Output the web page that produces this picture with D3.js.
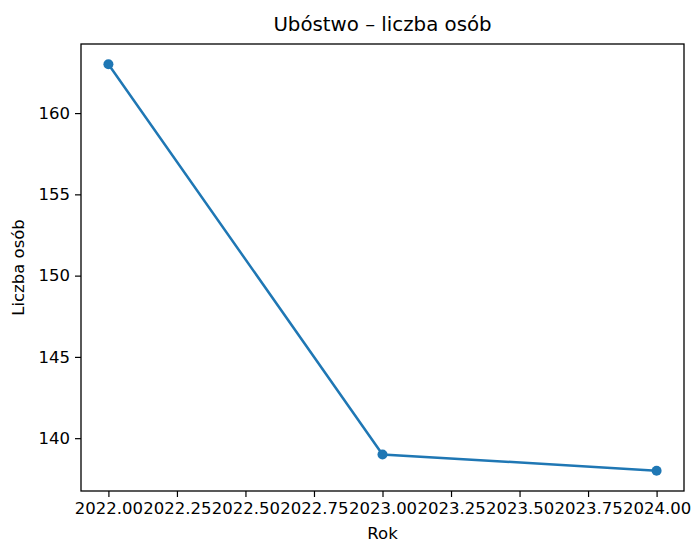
<!DOCTYPE html>
<html>
<head>
<meta charset="utf-8">
<script src="https://cdn.jsdelivr.net/npm/d3@7"></script>
<style>
  body { margin: 0; background: #fff; }
  svg text { font-family: "DejaVu Sans", sans-serif; fill: #000; }
</style>
</head>
<body>
<figure id="chart" style="margin:0"></figure>
<script>
const years = [2022, 2023, 2024];
const persons = [163, 139, 138];
const xTicks = [2022.0, 2022.25, 2022.5, 2022.75, 2023.0, 2023.25, 2023.5, 2023.75, 2024.0];
const yTicks = [140, 145, 150, 155, 160];

const width = 694, height = 543;
const mLeft = 81, mRight = 684, mTop = 44, mBottom = 491;

const svg = d3.select("figure#chart")
  .append("svg")
  .attr("width", width)
  .attr("height", height);

// scales with matplotlib style 5% margins
const xPad = (2024 - 2022) * 0.05;
const x = d3.scaleLinear()
  .domain([2022 - xPad, 2024 + xPad])
  .range([mLeft, mRight]);
const yPad = (163 - 138) * 0.05;
const y = d3.scaleLinear()
  .domain([138 - yPad, 163 + yPad])
  .range([mBottom, mTop]);

// X axis
const xAxis = svg.append("g")
  .attr("transform", "translate(0," + mBottom + ")")
  .call(d3.axisBottom(x).tickValues(xTicks).tickFormat(d3.format(".2f")).tickSize(6).tickPadding(5));
xAxis.select(".domain").remove();
xAxis.selectAll("line").attr("stroke", "#000").attr("stroke-width", 1.2);
xAxis.selectAll("text").style("font-size", "16.5px").attr("fill", "#000");

// Y axis
const yAxis = svg.append("g")
  .attr("transform", "translate(" + mLeft + ",0)")
  .call(d3.axisLeft(y).tickValues(yTicks).tickSize(6).tickPadding(5));
yAxis.select(".domain").remove();
yAxis.selectAll("line").attr("stroke", "#000").attr("stroke-width", 1.2);
yAxis.selectAll("text").style("font-size", "16.5px").attr("fill", "#000");

// frame
svg.append("rect")
  .attr("x", mLeft)
  .attr("y", mTop)
  .attr("width", mRight - mLeft)
  .attr("height", mBottom - mTop)
  .attr("fill", "none")
  .attr("stroke", "#000")
  .attr("stroke-width", 1.3);

// line + points
const pts = years.map((d, i) => ({ year: d, val: persons[i] }));
svg.append("path")
  .datum(pts)
  .attr("fill", "none")
  .attr("stroke", "#1f77b4")
  .attr("stroke-width", 2.5)
  .attr("d", d3.line().x(d => x(d.year)).y(d => y(d.val)));

svg.append("g")
  .selectAll("circle")
  .data(pts)
  .enter()
  .append("circle")
  .attr("cx", d => x(d.year))
  .attr("cy", d => y(d.val))
  .attr("r", 5)
  .attr("fill", "#1f77b4");

// titles
svg.append("text")
  .attr("x", (mLeft + mRight) / 2)
  .attr("y", 31)
  .attr("text-anchor", "middle")
  .style("font-size", "19.8px")
  .text("Ubóstwo – liczba osób");

svg.append("text")
  .attr("x", (mLeft + mRight) / 2)
  .attr("y", 539)
  .attr("text-anchor", "middle")
  .style("font-size", "16.5px")
  .text("Rok");

svg.append("text")
  .attr("transform", "translate(24," + ((mTop + mBottom) / 2) + ") rotate(-90)")
  .attr("text-anchor", "middle")
  .style("font-size", "16.5px")
  .text("Liczba osób");
</script>
</body>
</html>
